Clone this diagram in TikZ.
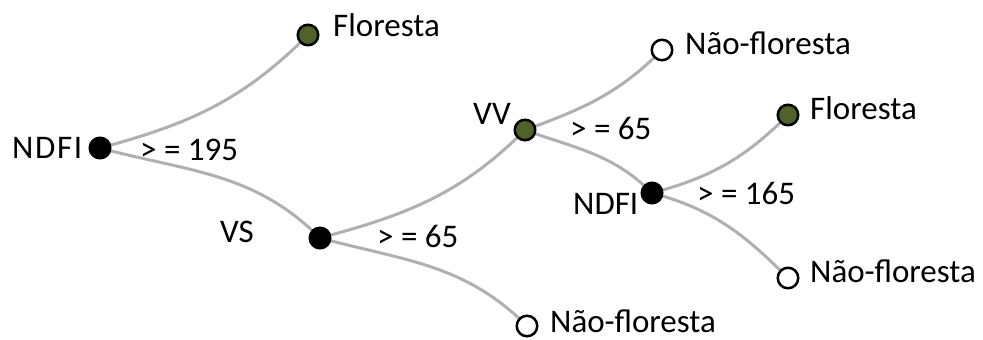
\documentclass[tikz,border=0pt]{standalone}
\usepackage{fontspec}
\setmainfont{Carlito}
\definecolor{leafgreen}{HTML}{4F6228}
\definecolor{linkgray}{HTML}{B0B0B0}
\begin{document}
\begin{tikzpicture}[x=1pt,y=1pt,
  dot/.style={circle,draw=black,line width=2.5pt,minimum size=20.5pt,inner sep=0pt},
  splitdot/.style={dot,fill=black},
  forestdot/.style={dot,fill=leafgreen},
  openleaf/.style={dot,fill=white},
  txt/.style={inner sep=0pt,font=\fontsize{33}{39}\selectfont},
  link/.style={draw=linkgray,line width=3pt},
  up/.style={out=15,in=225},
  down/.style={out=-15,in=135}]
\useasboundingbox (0,0) rectangle (983,340);

% node positions
\coordinate (r)  at (100,192);
\coordinate (f1) at (308,305);
\coordinate (vs) at (320,102);
\coordinate (vv) at (525,210);
\coordinate (n3) at (527,14);
\coordinate (n1) at (662,290);
\coordinate (nd) at (652,147);
\coordinate (f2) at (788,225);
\coordinate (n2) at (788,62);

% links
\draw[link] (r) to[up] (f1);
\draw[link] (r) to[down] (vs);
\draw[link] (vs) to[up] (vv);
\draw[link] (vs) to[down] (n3);
\draw[link] (vv) to[out=20,in=225] (n1);
\draw[link] (vv) to[out=-20,in=135] (nd);
\draw[link] (nd) to[up] (f2);
\draw[link] (nd) to[down] (n2);

% dots
\node[splitdot]  (rD)  at (r)  {};
\node[forestdot] (f1D) at (f1) {};
\node[splitdot]  (vsD) at (vs) {};
\node[forestdot] (vvD) at (vv) {};
\node[openleaf]  (n3D) at (n3) {};
\node[openleaf]  (n1D) at (n1) {};
\node[splitdot]  (ndD) at (nd) {};
\node[forestdot] (f2D) at (f2) {};
\node[openleaf]  (n2D) at (n2) {};

% labels
\node[txt,anchor=base west] (rL)  at (12,181)  {\addfontfeature{LetterSpace=5}NDFI};
\node[txt,anchor=base west] (rC)  at (140,179) {> = 195};
\node[txt,anchor=base west] (f1L) at (333,303) {Floresta};
\node[txt,anchor=base west] (vsL) at (220,97)  {VS};
\node[txt,anchor=base west] (vsC) at (377,92)  {> = 65};
\node[txt,anchor=base west] (vvL) at (473,215) {VV};
\node[txt,anchor=base west] (vvC) at (570,200) {> = 65};
\node[txt,anchor=base west] (n1L) at (685,285) {Não-floresta};
\node[txt,anchor=base west] (ndL) at (573,125) {NDFI};
\node[txt,anchor=base west] (ndC) at (697,135) {> = 165};
\node[txt,anchor=base west] (f2L) at (810,220) {Floresta};
\node[txt,anchor=base west] (n2L) at (810,57)  {Não-floresta};
\node[txt,anchor=base west] (n3L) at (550,7)   {Não-floresta};
\end{tikzpicture}
\end{document}
